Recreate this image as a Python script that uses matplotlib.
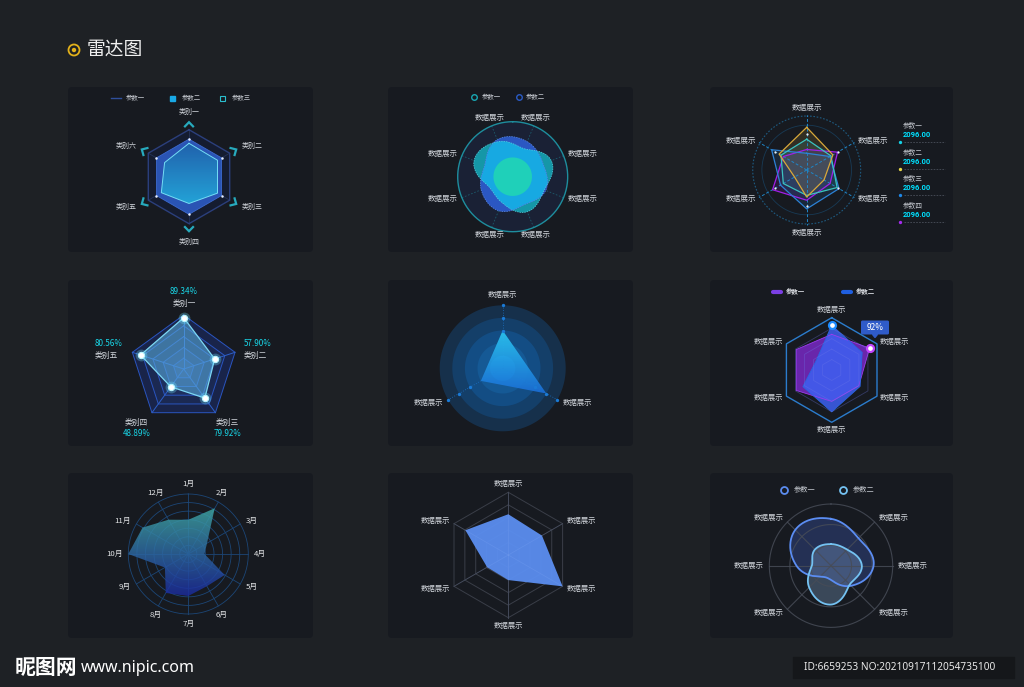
import numpy as np
import matplotlib
matplotlib.use('Agg')
import matplotlib.pyplot as plt
from matplotlib.patches import FancyBboxPatch, Circle, Rectangle, Polygon
from matplotlib.colors import to_rgba

plt.rcParams['font.family'] = ['Noto Sans CJK SC', 'DejaVu Sans']

# ---------------- data ----------------
# chart 1 (top left)
c1_names = ['类别一', '类别二', '类别三', '类别四', '类别五', '类别六']
c1_param1 = [100, 100, 100, 100, 100, 100]
c1_param2 = [80, 80, 80, 80, 80, 80]
c1_param3 = [71, 70, 70, 57, 68, 60]

# chart 2 (top middle), 8 axes
c2_names = ['数据展示'] * 8
c2_param1 = [55, 76, 62, 69, 51, 47, 76, 69]
c2_param2 = [69, 60, 65, 55, 67, 62, 55, 73]
c2_core = 35

# chart 3 (top right)
c3_names = ['数据展示'] * 6
c3_param1 = [57, 52, 65, 47, 50, 55]
c3_param2 = [79, 56, 37, 50, 26, 59]
c3_param3 = [31, 50, 69, 72, 56, 75]
c3_param4 = [38, 66, 50, 56, 73, 50]
c3_legend = ['参数一', '参数二', '参数三', '参数四']
c3_legend_values = ['2096.00', '2096.00', '2096.00', '2096.00']

# chart 4 (middle left)
c4_names = ['类别一', '类别二', '类别三', '类别四', '类别五']
c4_values = [89.34, 57.90, 79.92, 48.89, 80.56]
c4_max = [94, 96, 120, 120, 96]

# chart 5 (center)
c5_names = ['数据展示'] * 3
c5_values = [60, 80, 40]
c5_rings = [20, 40, 60, 80, 100]

# chart 6 (middle right)
c6_names = ['数据展示'] * 6
c6_param1 = [75, 92, 66, 66, 86, 86]
c6_param2 = [94, 74, 69, 88, 70, 38]
c6_max = 110

# chart 7 (bottom left)
c7_months = ['1月', '2月', '3月', '4月', '5月', '6月', '7月', '8月', '9月', '10月', '11月', '12月']
c7_values = [57, 88, 36, 27, 70, 62, 70, 75, 45, 100, 88, 66]

# chart 8 (bottom middle)
c8_names = ['数据展示'] * 6
c8_values = [65, 62, 100, 40, 39, 79]

# chart 9 (bottom right), 8 directions, two without name
c9_names = ['', '数据展示', '数据展示', '数据展示', '', '数据展示', '数据展示', '数据展示']
c9_param1 = [76, 63, 69, 46, 23, 25, 56, 82]
c9_param2 = [35, 37, 50, 43, 63, 50, 31, 37]

# ---------------- figure ----------------
W, H = 1024, 687
BG = '#1e2125'
PANEL = '#171a20'
LABEL = '#d2d6dc'

fig = plt.figure(figsize=(W / 100, H / 100), dpi=100)
fig.patch.set_facecolor(BG)

bg = fig.add_axes([0, 0, 1, 1])
bg.set_xlim(0, W)
bg.set_ylim(H, 0)
bg.axis('off')

top = fig.add_axes([0, 0, 1, 1], zorder=10)
top.axis('off')

CIRC = np.linspace(0, 2 * np.pi, 181)


def closed(a):
    a = np.asarray(a, dtype=float)
    return np.append(a, a[0])


def angles(n, start=0.0):
    return np.deg2rad(start + np.arange(n) * 360.0 / n)


def full(n, level):
    return np.full(n, float(level))


def radar_axes(cx, cy, R, vmax=100, z=1):
    S = R * 1.6
    ax = fig.add_axes([(cx - S) / W, 1 - (cy + S) / H, 2 * S / W, 2 * S / H],
                      projection='polar', zorder=z)
    ax.set_theta_zero_location('N')
    ax.set_theta_direction(-1)
    ax.set_ylim(0, vmax * S / R)
    ax.grid(False)
    ax.set_xticks([])
    ax.set_yticks([])
    for s in ax.spines.values():
        s.set_visible(False)
    ax.patch.set_visible(False)
    ax.k = vmax / R
    return ax


def axis_label(ax, th, r_px, text, size=5.3, color=LABEL):
    s, c = np.sin(th), np.cos(th)
    if abs(s) < 0.6:
        ha = 'center'
        va = 'bottom' if c > 0 else 'top'
    else:
        ha = 'left' if s > 0 else 'right'
        va = 'center'
    ax.text(th, r_px * ax.k, text, ha=ha, va=va, fontsize=size, color=color)


def gradient_fill(ax, th, r, c_top, c_bot, alpha=1.0):
    patch = ax.fill(th, r, facecolor='none', edgecolor='none')[0]
    xy = patch.get_transform().transform(patch.get_path().vertices)
    x0, x1 = xy[:, 0].min(), xy[:, 0].max()
    ytop, ybot = H - xy[:, 1].max(), H - xy[:, 1].min()
    ct, cb = np.array(to_rgba(c_top)), np.array(to_rgba(c_bot))
    t = np.linspace(0, 1, 256)[:, None]
    grad = (ct * (1 - t) + cb * t)[:, None, :]
    im = top.imshow(grad, extent=[x0, x1, ybot, ytop], aspect='auto',
                    alpha=alpha, interpolation='bilinear')
    im.set_clip_path(patch)


def smooth_loop(values, start=0.0, n=40):
    v = np.asarray(values, dtype=float)
    N = len(v)
    t = np.linspace(0, 1, n, endpoint=False)
    parts = []
    for i in range(N):
        p0, p1, p2, p3 = v[i - 1], v[i], v[(i + 1) % N], v[(i + 2) % N]
        parts.append(0.5 * (2 * p1 + (-p0 + p2) * t + (2 * p0 - 5 * p1 + 4 * p2 - p3) * t ** 2
                            + (-p0 + 3 * p1 - 3 * p2 + p3) * t ** 3))
    r = np.concatenate(parts)
    r = np.append(r, r[0])
    th = np.deg2rad(start) + np.linspace(0, 2 * np.pi, N * n + 1)
    return th, r


def btext(x, y, s, size=4.8, color='#c4c8cf', ha='left', **kw):
    bg.text(x, y, s, fontsize=size, color=color, ha=ha, va='center', **kw)


# panels
cols = [(68, 313), (388, 633), (710, 953)]
rows = [(87, 252), (280, 446), (473, 638)]
for (y0, y1) in rows:
    for (x0, x1) in cols:
        bg.add_patch(FancyBboxPatch((x0, y0), x1 - x0, y1 - y0,
                                    boxstyle='round,pad=0,rounding_size=4',
                                    fc=PANEL, ec='none'))

# title
bg.add_patch(Circle((74, 50), 5.5, fill=False, ec='#e3b11a', lw=1.3))
bg.add_patch(Circle((74, 50), 1.5, color='#e3b11a'))
bg.text(87, 50, '雷达图', fontsize=13.5, color='#f0f0f0', va='center')

# ---------------- chart 1 ----------------
ax = radar_axes(189, 176.7, 47)
th = angles(6)
ax.fill(closed(th), closed(full(6, 100)), color='#151c30', lw=0, zorder=0.3)
for t in th:
    ax.plot([t, t], [0, 100], color='#243258', lw=0.6, zorder=0.5)
ax.plot(closed(th), closed(c1_param1), color='#2b3f7c', lw=1.0)
ax.fill(closed(th), closed(c1_param2), color='#2a54b4', lw=0)
ax.plot(closed(th), closed(c1_param2), color='#3c6ad0', lw=0.6)
gradient_fill(ax, closed(th), closed(c1_param3), '#1e64aa', '#22b6e0', alpha=0.8)
fr = radar_axes(189, 176.7, 47, z=20)
fr.plot(closed(th), closed(c1_param3), color='#74def5', lw=0.7)
fr.plot(th, c1_param2, 'o', ms=1.8, color='#e6eeff', mew=0)
k = fr.k
for t in th:
    fr.plot([t - 0.08, t, t + 0.08], [50.5 * k, 54.5 * k, 50.5 * k],
            color='#27aabd', lw=1.6, solid_joinstyle='miter')
for t, nm in zip(th, c1_names):
    axis_label(fr, t, 61, nm, size=5)

bg.plot([111, 121], [98, 98], color='#2f4f9c', lw=1)
btext(126, 98, '参数一', size=4.6)
bg.add_patch(Rectangle((169.5, 95.5), 5, 5, color='#19a9e6'))
btext(182, 98, '参数二', size=4.6)
bg.add_patch(Rectangle((219.5, 95.5), 5, 5, fill=False, ec='#2bbfcf', lw=0.8))
btext(232, 98, '参数三', size=4.6)

# ---------------- chart 2 ----------------
ax = radar_axes(512.7, 176.7, 55)
th = angles(8, 22.5)
ax.fill(CIRC, np.full_like(CIRC, 100), color='#1a2135', lw=0, zorder=0.3)
ax.plot(CIRC, np.full_like(CIRC, 100), color='#1e8e9e', lw=1)
for t in th:
    ax.plot([t, t], [0, 100], color='#1c5a6c', lw=0.6, ls=(0, (2, 2)), zorder=0.5)
ts, r1 = smooth_loop(c2_param1, 22.5)
_, r2 = smooth_loop(c2_param2, 22.5)
ax.fill(ts, r1, color='#1597a7', lw=0, zorder=1)
ax.fill(ts, r2, color='#2b57c2', lw=0, zorder=1.1)
ax.fill(ts, np.minimum(r1, r2), color='#17a9e2', lw=0, zorder=1.2)
ax.plot(ts, r1, color='#56d2e0', lw=0.5, ls=(0, (2, 1.5)), zorder=1.3)
ax.plot(ts, r2, color='#5a8ae8', lw=0.5, ls=(0, (2, 1.5)), zorder=1.3)
ax.fill(CIRC, np.full_like(CIRC, c2_core), color='#1fd0b9', lw=0, zorder=1.4)
for t, nm in zip(th, c2_names):
    axis_label(ax, t, 59, nm, size=5.4)

bg.plot(474.3, 96.7, 'o', ms=4, mfc=PANEL, mec='#19a7b3', mew=1)
btext(481.7, 96.7, '参数一', size=4.6)
bg.plot(519.3, 96.7, 'o', ms=4, mfc=PANEL, mec='#2a5bc6', mew=1)
btext(525.7, 96.7, '参数二', size=4.6)

# ---------------- chart 3 ----------------
ax = radar_axes(806.7, 170, 54)
th = angles(6)
ax.plot(CIRC, np.full_like(CIRC, 100), color='#1e5a80', lw=0.8, ls=(0, (1.5, 1.5)))
ax.plot(CIRC, np.full_like(CIRC, 83), color='#173a55', lw=0.6)
ax.plot(CIRC, np.full_like(CIRC, 50), color='#173a55', lw=0.5, ls=(0, (1.5, 1.5)))
for t in th:
    ax.plot([t, t], [0, 102], color='#1f86c8', lw=0.7, ls=(0, (3, 2)))
c3_colors = ['#3cc3c0', '#d9a93a', '#2c82d6', '#a020e8']
for vals, col in zip([c3_param4, c3_param3, c3_param1, c3_param2],
                     [c3_colors[3], c3_colors[2], c3_colors[0], c3_colors[1]]):
    ax.fill(closed(th), closed(vals), color=col, alpha=0.14, lw=0)
    ax.plot(closed(th), closed(vals), color=col, lw=0.9)
ax.plot(th, full(6, 67), 'o', ms=1.6, color='#e8eef5', mew=0)
for t, nm in zip(th, c3_names):
    axis_label(ax, t, 58.5, nm, size=5.5)

dot_cols = ['#14d2e6', '#e8d84a', '#1e88e8', '#a62bf0']
for i, (nm, val, col) in enumerate(zip(c3_legend, c3_legend_values, dot_cols)):
    y = 126 + i * 26.6
    btext(903, y, nm, size=4.8)
    btext(903, y + 9, val, size=5.4, color='#00e1ff', family='Roboto', weight='bold')
    bg.plot([904, 945], [y + 16, y + 16], color='#4a4f5a', lw=0.6, ls=(0, (2, 1.5)))
    bg.plot(899.5, y + 16, 'o', ms=2.4, color=col, mew=0)

# ---------------- chart 4 ----------------
ax = radar_axes(183.7, 369, 54)
th = angles(5)
ring_cols = ['#19244a', '#1b2952', '#1e2f5d', '#24376b', '#2c4279']
for lv, col in zip([100, 80, 60, 40, 20], ring_cols):
    ax.fill(closed(th), closed(full(5, lv)), color=col, lw=0, zorder=0.3)
for lv in [100, 80, 60, 40, 20]:
    ax.plot(closed(th), closed(full(5, lv)), color='#2a55c0', lw=0.7, zorder=0.5)
for t in th:
    ax.plot([t, t], [0, 100], color='#2d5fc8', lw=0.7, zorder=0.5)
ratio = np.array(c4_values) / np.array(c4_max) * 100
ax.fill(closed(th), closed(ratio), color='#5cb2e2', alpha=0.55, lw=0)
ax.plot(closed(th), closed(ratio), color='#7dd8f4', lw=0.9)
ax.plot(th, ratio, 'o', ms=8.5, color='#6fe6ff', alpha=0.3, mew=0)
ax.plot(th, ratio, 'o', ms=4.5, mfc='white', mec='#b8f6ff', mew=0.8)

c4_layout = [(184, 304.3, 'center', -12.6), (244, 355.7, 'left', -12.4),
             (227, 422.7, 'center', 10.6), (136.5, 422.7, 'center', 10.6),
             (95, 355.7, 'left', -12.4)]
for (x, y, ha, dy), nm, v in zip(c4_layout, c4_names, c4_values):
    btext(x, y, nm, size=5.6, color=LABEL, ha=ha)
    btext(x, y + dy, f'{v:.2f}%', size=5.8, color='#19d7e8', ha=ha)

# ---------------- chart 5 ----------------
ax = radar_axes(502.7, 368.3, 63)
th = angles(3)
disc_cols = ['#16304b', '#143f69', '#134d84', '#155995', '#1a8bd4']
for lv, col in zip(c5_rings[::-1], disc_cols):
    ax.fill(CIRC, np.full_like(CIRC, lv), color=col, lw=0)
for t in th:
    ax.plot([t, t], [0, 100], color='#1b6fc0', lw=0.6, ls=(0, (1, 2)))
gradient_fill(ax, closed(th), closed(c5_values), '#2bc8f2', '#1b6ed6', alpha=0.92)
fr = radar_axes(502.7, 368.3, 63, z=20)
for t in th:
    fr.plot([t] * 3, c5_rings[2:], 'o', ms=2.4, color='#1a7ad6', mew=0)
for t, nm in zip(th, c5_names):
    axis_label(fr, t, 69, nm, size=5.3)

# ---------------- chart 6 ----------------
ax = radar_axes(831.7, 370, 52.3, vmax=c6_max)
th = angles(6)
ax.fill(closed(th), closed(c6_param1), color='#8a2be2', alpha=0.72, lw=0)
ax.plot(closed(th), closed(c6_param1), color='#9a3cf0', lw=0.6)
ax.fill(closed(th), closed(c6_param2), color='#3d60f2', alpha=0.85, lw=0, zorder=1.5)
ax.plot(closed(th), closed(c6_param2), color='#2a64e0', lw=0.6)
for lv in [22, 44, 66, 88]:
    ax.plot(closed(th), closed(full(6, lv)), color='#6c78e8', lw=0.6, alpha=0.35)
ax.plot(closed(th), closed(full(6, c6_max)), color='#2b7ccc', lw=1.0)
ax.plot(th[0], c6_param2[0], 'o', ms=5, mfc='white', mec='#1d8cff', mew=1.6)
ax.plot(th[1], c6_param1[1], 'o', ms=5, mfc='white', mec='#c243ff', mew=1.6)
for t, nm in zip(th, c6_names):
    axis_label(ax, t, 56, nm, size=5.3)

bg.add_patch(FancyBboxPatch((861, 320.5), 28, 14, boxstyle='round,pad=0,rounding_size=1.5',
                            fc='#2f5bc9', ec='none'))
bg.add_patch(Polygon([(872.5, 334.4), (877.5, 334.4), (875, 337.5)], closed=True, color='#2f5bc9'))
btext(875, 327.5, f'{c6_param1[1]}%', size=6, color='white', ha='center')

bg.plot([773, 780.5], [291.7, 291.7], color='#7b3fe4', lw=3, solid_capstyle='round')
btext(786, 291.7, '参数一', size=4.6, color='#d8dbe0', weight='bold')
bg.plot([843, 850.5], [291.7, 291.7], color='#1f5fe0', lw=3, solid_capstyle='round')
btext(856, 291.7, '参数二', size=4.6, color='#d8dbe0', weight='bold')

# ---------------- chart 7 ----------------
ax = radar_axes(188.3, 554, 60)
th = angles(12)
for lv in np.arange(1, 8) * 100 / 7:
    ax.plot(CIRC, np.full_like(CIRC, lv), color='#1c4676', lw=0.6)
for t in th:
    ax.plot([t, t], [0, 100], color='#1c4676', lw=0.6)
gradient_fill(ax, closed(th), closed(c7_values), '#3fa8a4', '#1b2a9e', alpha=0.82)
for t, nm in zip(th, c7_months):
    axis_label(ax, t, 66, nm, size=5.6, color='#e6e8ea')

# ---------------- chart 8 ----------------
ax = radar_axes(508.3, 555, 62.7)
th = angles(6)
for lv in [20, 40, 60, 80, 100]:
    ax.plot(closed(th), closed(full(6, lv)), color='#3a3e48', lw=0.7, zorder=0.5)
for t in th:
    ax.plot([t, t], [0, 100], color='#3a3e48', lw=0.7, zorder=0.5)
ax.fill(closed(th), closed(c8_values), color='#5b8ef0', alpha=0.95, lw=0, zorder=1)
for t in th:
    ax.plot([t, t], [0, 100], color='#9ab6f8', lw=0.5, alpha=0.15, zorder=1.5)
for t, nm in zip(th, c8_names):
    axis_label(ax, t, 67, nm, size=5.3)

# ---------------- chart 9 ----------------
ax = radar_axes(831, 565.7, 61.7)
th = angles(8)
ts, r1 = smooth_loop(c9_param1)
_, r2 = smooth_loop(c9_param2)
ax.fill(ts, r1, color='#27345e', alpha=0.85, lw=0)
ax.fill(ts, r2, color='#7d9fc4', alpha=0.35, lw=0)
for lv in [33.3, 66.7, 100]:
    ax.plot(CIRC, np.full_like(CIRC, lv), color='#474c57', lw=0.8, alpha=0.85)
for t, nm in zip(th, c9_names):
    if nm:
        ax.plot([t, t], [0, 100], color='#474c57', lw=0.8, alpha=0.85)
ax.plot(ts, r1, color='#5b8df2', lw=1.3)
ax.plot(ts, r2, color='#74c2f2', lw=1.3)
for t, nm in zip(th, c9_names):
    if nm:
        axis_label(ax, t, 67, nm, size=5.4)

bg.plot(784.3, 489.7, 'o', ms=5, mfc=PANEL, mec='#5b8cf0', mew=1.3)
btext(794, 489.7, '参数一', size=5.2)
bg.plot(843.3, 489.7, 'o', ms=5, mfc=PANEL, mec='#74c2f2', mew=1.3)
btext(852.7, 489.7, '参数二', size=5.2)

# ---------------- watermark ----------------
bg.text(15, 668, '昵图网', fontsize=15, weight='bold', color='white', va='center')
bg.text(81, 668, 'www.nipic.com', fontsize=11.5, weight='bold', color='white', va='center',
        family='Noto Sans')
bg.add_patch(Rectangle((793, 657), 221, 21, color='#15171a'))
bg.text(804, 667.5, 'ID:6659253 NO:20210917112054735100', fontsize=7.3, color='#e8e8e8',
        va='center', family='Noto Sans')

top.set_xlim(0, W)
top.set_ylim(H, 0)

fig.savefig('out.png', dpi=100, facecolor=fig.get_facecolor())
